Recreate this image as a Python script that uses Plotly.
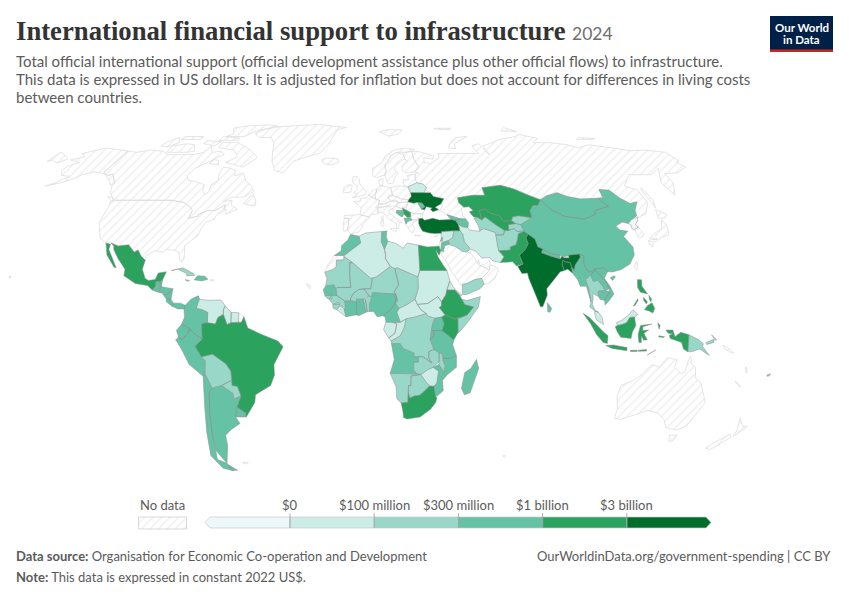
import numpy as np
import plotly.graph_objects as go

# plotly's geo basemap has to be downloaded, so outlines are kept here as lon,lat pairs
# and projected (Robinson) onto plain axes

# --- no data ---
canada = [-141,69.6,-135,69,-128,70,-120,69.5,-115,68,-108,68,-100,68,-95,69,-94,72,-90,69,-85,69.5,-82,68,-87,65,-93,62,-94.5,59,-92.5,57,-88,56.5,-82.5,55.2,-82,52.9,-79.5,51.3,-78.5,52.5,-79,55,-76.7,57,-78,60,-77.5,62.5,-73,62,-70,61,-69,58.8,-65,60,-61.5,56.5,-58,54.8,-55.7,52.5,-60,50.2,-66,50.2,-69,48.5,-65,49,-64.5,47,-61,45.5,-63.5,44.5,-66,43.5,-66,45,-67.5,45.5,-67.5,47.2,-70,46,-71.5,45,-75,45,-79,43.3,-79,42.8,-83,42,-82.5,45,-84.5,46.5,-88.5,48.2,-95,49,-123,49,-125,50,-128,52,-130,54.7,-130,55.9,-135,59.5,-137.5,59,-141,60.3]
baffin = [-62,66,-67,62.5,-72,63.5,-78,64.5,-73,67,-78,70,-88,71,-89,73.5,-80,73.7,-72,71.5,-68,70,-62,67]
victoria = [-105,69,-117,69,-118,72,-110,73,-105,72.5,-101,69.5]
banks = [-125,72,-120,71.5,-116,73.5,-120,76,-124,74]
ellesmere = [-90,76.5,-78,76.5,-75,79,-62,82.5,-70,83.2,-85,82.5,-92,81,-87,78]
devon = [-92,74.5,-80,74.7,-80,75.7,-92,76.5]
melville = [-117,75,-105,75,-105,76.5,-117,76.5]
somerset = [-100,73,-92,72,-90,74,-100,74.5]
southampton = [-87,64,-81,63.5,-83,65.5,-86,65.7]
newfoundland = [-59,47.7,-53,46.7,-53,48.5,-55.5,51.5,-57,50]
vancouver = [-128,50.5,-125,50,-123.5,48.4,-125,48.8]
usa = [-124.7,48.4,-123,49,-95,49,-88.5,48.2,-84.5,46.5,-82.5,45,-83,42,-79,42.8,-79,43.3,-75,45,-71.5,45,-70,46,-67.5,47.2,-67.5,45.5,-66.9,44.8,-70,43.7,-70.7,41.7,-74,40.5,-75.5,38,-76,35.5,-81,31.5,-80,26.8,-80.8,25.1,-81.8,26,-83,29,-85,29.7,-89,30,-90,29,-94,29.6,-97.3,27.5,-97.2,25.9,-99.5,27.5,-101.5,29.8,-103,29,-106.5,31.8,-111,31.3,-114.8,32.5,-117.1,32.5,-120.6,34.5,-122.5,37.5,-124.3,40.3,-124,46]
alaska = [-141,69.6,-141,60.3,-137.5,59,-135,59.5,-130,55.9,-131,55,-135,57.5,-140,59.7,-146,60.5,-151.5,59.3,-153,58,-158,56,-164.5,54.6,-161,56,-157.5,58.7,-162,59,-165,61,-165,63,-161,64.5,-168,65.6,-162,67,-166.5,68.4,-157,71,-150,70.4]
hawaii = [-156,20,-155,19.5,-155.7,19]
greenland = [-73,78.2,-68,80.5,-60,82,-45,82.7,-32,83.6,-22,82.3,-12,81.6,-18,80,-20,76,-22,72.5,-26,68.5,-33,67,-40,65,-43.5,60,-48.5,61,-52,65,-54,69,-56,73,-60,76,-68,76]
iceland = [-24,65.5,-22,64,-18,63.4,-14,64.5,-14.5,66,-18,66.4,-22,66.4]
svalbard = [11,79,17,76.7,24,78,27,80,17,80]
russia = [28,59.6,30,60,28,60.5,31,62.5,29,66,29,69.5,33,69.3,41,67.5,40,66,35,66.5,34.5,64.5,38,64,40,65,44,66.5,44,68.5,54,68.5,60,68.7,68,68.5,67,72,72,73,74,68,74,72,81,73.5,87,75,100,76.5,104,77.7,113,75.5,107,73.5,118,73.5,127,72.5,131,71,140,72.5,152,71,160,69.7,170,70,180,69,180,65,177.5,64.7,179,62.5,170,60,163,59.8,162,56,156.7,51,155.7,56,161,60.5,163,62,155,59.3,143,59.3,135,54.7,140,53,140,48,135.5,43.7,130.7,42.3,130.5,43,131.2,45,135,48.4,131,47.7,127.5,50,125.5,53,120.5,53.3,119.5,50,116.7,49.8,108,49.5,102,50.5,98,52,92,50.8,87.8,49.2,83,51,77,53.5,71,55,61,54,61,51,55,51,47,50,47,48,49,46.3,47.5,45.5,47.5,43,48.5,41.8,46,41.8,40,43.4,37,45,39,47,38,47.5,40,49.6,35,50.5,34,52,31.5,53,32.5,54,31,55.5,28,56,27.5,57.5]
chukotka = [-180,69,-175,67.7,-170,66,-173,64.3,-178,65.5,-180,65]
novaya_zemlya = [52,71,56,70.7,57,73,68,76.5,60,76,54,73]
sakhalin = [142,46,143.5,49,143,54,142,53.5,142,48]
severnaya = [95,79.5,105,79,100,81.5]
new_siberian = [137,75,146,75,150,75.5,140,76]
franz_josef = [50,80.5,60,80,62,81,50,81]
norway = [5,59,7,58,10.5,59,11.5,59,12.5,61,12,63.5,14,65,16,67.5,20,69,25,69,29,69.5,31,70.3,25,71,18,69.8,13,67.5,10,64,5,62]
sweden = [11.5,59,13,55.5,16,56,16.5,58,19,60,17,61.5,18,63,22,65.5,24,66,23.5,68,20,69,16,67.5,14,65,12,63.5,12.5,61]
finland = [23,60,28,60.5,31,62.5,29,66,29,69.5,25,69,23.5,68,24,66,25,65,21.5,63,21.5,61]
denmark = [8.5,55,8,57,10.5,57.7,10,55]
uk = [-5.5,50,1,51.2,1.7,52.7,0,53.5,-2,56,-2,57.5,-3.5,58.6,-5.5,58.5,-6,56.5,-3.5,54.8,-3,53.3,-5,52,-3,51.3]
ireland = [-10,52,-6.3,52.2,-6,54,-5.7,55,-8,55.2,-10,54]
france = [-1.5,43.4,3,42.5,3.5,43.3,7.5,43.8,7,46,8,48.9,6,49.5,2.5,51,1.5,50,-1.5,49.7,-1.5,48.7,-4.7,48.5,-1,46,-1.2,44.5]
spain = [-9.2,43,-1.8,43.4,3,42.4,0,40,-0.5,38.5,-2,36.8,-5.5,36,-7.3,37.2,-7,39.5,-6.8,41.9,-9,42]
portugal = [-9,42,-6.8,41.9,-7,39.5,-7.3,37.2,-9,37,-9.5,38.8]
germany = [6,51,7,53.5,8.8,54.8,10,54.7,14,54,14.7,51,12.2,50.3,13.7,48.7,10,47.5,7.6,47.6,8,48.9,6,49.5]
benelux = [2.5,51,3.5,51.4,4.7,53,7,53.4,6,51,6,49.5]
alps = [6,46.2,7.6,47.6,10,47.5,13.7,48.7,17,48.7,16,46.8,12,46.7,10,46.5,8,46]
italy = [7,44,7,46,10,46.5,12,46.7,13.7,45.6,12.3,45,12.5,44,16,41.8,18.4,40.2,17,40.5,16.5,38.2,15.7,38,15.5,40,12,41.8,10,43.7,8.5,44.3]
sicily = [12.5,38,15.5,38.2,15,36.7]
sardinia = [8.3,39,9.7,39,9.5,41.2,8.3,40.9]
corsica = [8.7,41.5,9.4,41.5,9.4,43,8.7,42.5]
crete = [23.5,35.4,26.3,35.2,26,35,23.6,35.2]
cyprus = [32.4,34.8,34.5,35.6,33.8,34.9]
poland = [14,54,18.5,54.8,23,54.3,24,52,24,50.5,22.5,49.2,19,49.5,14.7,51]
czech_slovak = [12.2,50.3,14.7,51,19,49.5,22.5,49.2,22,48.4,17,48,17,48.7,13.7,48.7]
hungary = [16,46.8,17,48,22,48.4,21,46.2,18,45.8]
romania = [21,46.2,22,48.4,24.8,47.8,26.6,48.2,28.2,45.5,29.7,45.2,28.6,43.7,25,43.7,22.7,44.2,21,45]
bulgaria = [22.7,44.2,25,43.7,28.6,43.7,28,42,26.3,41.8,23,41.4,22.5,42.5]
greece = [20,39.7,21,40.8,26.3,41.5,24,40.7,23,39.5,24,38,23,36.5,21.7,36.8,21,38.3]
croatia_slovenia = [13.7,45.5,16,46.8,18,45.8,19,45,16,45,16,44,17.5,43,18.5,42.5,15,44.5,14.3,45.2]
baltics = [21,55,21,57.3,24,57.2,23.5,59,28,59.5,27.5,57.5,28,56,26.5,55.5,23,54.3]
japan_honshu = [131,34,135,33.7,136.8,34.6,140.8,35.7,142,39.5,141.3,41.4,140,40,139,38,136.8,37.2,133,35.5]
japan_hokkaido = [140,42,141.5,45.4,145.3,43.5,143,42]
japan_kyushu = [130,33.5,132,33,131,31,130.2,31.5]
japan_shikoku = [132.5,34,134.5,34.2,134,33.4,133,32.8]
south_korea = [126,37.7,128.3,38.6,129.4,36,128,34.8,126.3,34.5]
taiwan = [120.2,23,121,25,122,25,121,22]
saudi = [34.9,29.4,37,31.5,39,32,42,31,44.7,29.2,46.5,29.1,48.4,28.5,50,26.5,50.8,24.8,51.6,24,55,22.7,55.7,22,52,19,49,18.5,46,17.3,43.3,16.5,42.7,16.5,40.5,19.5,39,21.5,37.2,25,35,28]
oman = [52,19,55.7,22,56.3,24,58.5,23.6,59.8,22.5,58,19,55,17,53,16.7]
uae = [51.6,24,54,24.2,56.3,26,56.3,24,55.7,22,55,22.7]
qatar = [50.8,24.8,51.5,26,51.6,24.6]
kuwait = [46.5,29.1,48,30,48.4,28.5]
israel = [34.3,31.3,35,33.2,35.5,32.5,35,29.5]
western_sahara = [-8.7,27.7,-8.7,26,-12,26,-12,23.4,-13,22.5,-17,21.4,-16,23.7,-13,27.7]
french_guiana = [-54,5.8,-51.7,4.3,-52.8,2.2,-54,2.3]
australia = [114,-22,113.2,-26,115,-31,115,-34.5,118,-35,124,-33,129,-31.5,134,-32.5,138,-35,141,-38.2,146.5,-39,150,-37.5,153.5,-28.5,149,-21,146,-19,145.3,-15,143.5,-14,142.5,-10.7,141.5,-13,141,-17,139.5,-17.5,136,-15,136.8,-12.2,132.5,-11.3,129.5,-15,126,-14,122,-18,119,-20]
tasmania = [144.8,-41,148.3,-41,148,-43,146.5,-43.6,145.5,-42.5]
nz_north = [172.7,-34.5,176,-37.5,178.5,-37.7,176.5,-40,175,-41.5,174.7,-39]
nz_south = [172.7,-40.5,174.3,-41.7,171,-45,169,-46.6,166.5,-46,168,-44,171,-42]
new_caledonia = [164,-20.2,167,-22.3,166.3,-22.3,164,-20.6]
vanuatu = [167,-15,167.5,-15,168.3,-17,167.8,-17]
solomon = [156,-6.7,158,-7.5,161,-9.5,160,-9.5,157,-8]
falklands = [-61,-51.8,-58,-51.5,-59,-52.3]
cape_verde = [-25,17,-23,16,-23.5,15]
puerto_rico = [-67.2,18.5,-65.6,18.4,-66,18,-67.2,18]
kerguelen = [69,-49,70.5,-49,70,-49.6]

# --- below $0 ---
north_korea = [124.3,40,127,41.5,130.5,42.5,129.5,41,127.5,39.5,128.3,38.6,126,37.7,125,38,125.3,39.5]

# --- $0 to $100 million ---
algeria = [-2,35.1,1,36.3,8.6,36.9,8.2,33,9.5,30.2,10,28,9.9,26.5,12,23.5,5.8,19.5,4,19,3.2,19,-4.8,25,-8.7,27.3,-8.7,27.7,-4,30.8,-1.2,32.5]
libya = [11.2,33.2,15,32.3,18,30.5,20,32.5,25,31.7,25,22,24,19.5,15,23,14,22.6,12,23.5,9.9,26.5,10,28,9.5,30.2]
sudan = [24,19.5,25,22,37,22,38,18,36.5,14.5,36,12.7,34,10,32.5,12,28,9.4,23.5,9,22.5,11,24,15]
south_sudan = [23.5,9,28,9.4,32.5,12,34,10,34,8.5,33,7.8,35.5,5,34,4.2,31,3.7,28,4.5,27.3,5.5,25,7]
car = [14.5,6,15.5,7.5,19,9,22.5,11,23.5,9,25,7,27.3,5.5,22.5,4.2,18.6,3.5,16,2.2]
gabon = [9.3,1,9.8,2.3,13,2.2,14.5,1.5,13.7,-2,11,-3.8,8.8,-0.7]
congo = [14.5,1.5,13,2.2,16,2.2,18.6,3.5,17.7,0,16,-3,12,-5,11,-3.8,13.7,-2]
eritrea = [36.5,14.5,38,18,39.5,15.5,43,12.5,42,12.5,40,14.5,38,14.5]
liberia = [-11.5,7,-10.3,8.5,-8.4,7.5,-7.5,4.3]
zimbabwe = [25.2,-17.8,28,-16,30.5,-15,33,-16.5,32.5,-21,31.3,-22.3,29.3,-22.2,27.5,-20.5]
lesotho = [27,-29.6,28.5,-28.7,29.4,-29.7,28,-30.6]
eswatini = [30.8,-26.4,32,-25.8,32,-27.2,31,-27.2]
iran = [44.8,39.7,46,38.8,48.8,38.4,49.3,37.5,54,36.9,54,37.3,56,38,61,36.6,61,34,60.8,31.5,61,29.5,63,27.2,61,25,57.5,25.7,56.5,27,53,26.7,50.5,29.5,48.5,30,48,30.5,46,33,45.8,35.8,44.8,37.2]
syria = [36,36.2,36.2,36.9,42,37.2,41,34.5,38.8,33.4,36,32.7,35.7,35]
belarus = [24,52,23,54.3,26.5,55.5,28,56,31,55.5,32.5,54,31.5,53,31,52]
bhutan = [88.8,27.3,92,27.8,92,26.8,89.8,26.8]
malaysia_peninsula = [100.5,6.5,102,6,103.5,4,104,1.4,101,3,100.3,5.5]
malaysia_borneo = [109.6,2,112,3,115,5,117,7,119,5.2,117.5,4.2,115.5,4,114,2,112,1.3,110,1]
venezuela = [-72,12.3,-71.3,11,-68,10.6,-62,10.7,-60,8.5,-60.7,7,-60.7,5.2,-63,4,-64,1.5,-67.5,2,-67.5,6,-70,7,-72.5,7.5]
guyana = [-60,8.5,-57.3,6,-57.3,2,-59,1.3,-60.7,5.2,-60.7,7]
suriname = [-57.3,6,-54,5.8,-54,2.3,-57.3,2]

# --- $100 million to $300 million ---
mauritania = [-17,21.3,-13,22.5,-12,23.4,-12,26,-8.7,26,-8.7,27.3,-4.8,25,-6,25,-6,20,-5.5,15.5,-11.5,15.5,-12,15,-13,16.5,-16.5,16,-16,19]
mali = [-12,15,-11.5,12.4,-8,10.3,-5.5,10.4,-5.5,11.5,-4,13.5,-2,14.7,0.2,15,3.2,15,4,19,3.2,19,-4.8,25,-6,25,-6,20,-5.5,15.5,-11.5,15.5]
niger = [0.2,15,2.5,12.3,3.6,11.7,4,13.5,10,13.2,14,13,13.5,14,15.5,16.5,14,22.6,12,23.5,5.8,19.5,4,19,3.2,15]
chad = [15,23,24,19.5,24,15,22.5,11,19,9,15.5,7.5,14,9.5,15,10.5,14,13,13.5,14,15.5,16.5,14,22.6]
burkina = [-5.5,10.4,-3,10,-3,11,0,11,2.5,12.3,0.2,15,-2,14.7,-4,13.5,-5.5,11.5]
guinea = [-13.7,12.6,-11.5,12.4,-8,10.3,-7.7,8,-9,8,-10.5,9,-13,9,-15,11]
guinea_bissau = [-16.7,12.3,-13.7,12.6,-13.7,11,-15.7,11.3]
sierra_leone = [-13.3,9,-10.5,9.9,-10.3,8.5,-11.5,7,-13,7.5]
togo = [0,11,0.9,11,1.7,6.2,1.2,6,0.6,8]
benin = [0.9,11,2.5,12.3,3.6,11.7,2.7,9,2.7,6.3,1.7,6.2]
drc = [12.2,-6,12,-5,16,-3,17.7,0,18.6,3.5,22.5,4.2,27.3,5.5,28,4.5,31,3.7,30,1.5,29.5,-1,29,-4.5,30.7,-8.2,28.5,-9,28.5,-11.5,29.8,-13.3,26,-11,22,-11,22,-9.5,17.5,-8,16,-6]
zambia = [24,-11,26,-11,29.8,-13.3,28.5,-11.5,28.5,-9,30.7,-8.2,33,-9.5,33,-13,30.5,-15,28,-16,25.5,-17.7,23.4,-17.6,22,-16,22,-13,24,-13]
malawi = [33,-9.5,34.2,-9.7,34.8,-12.5,35.8,-14.5,35.3,-17,34.3,-15.5,33,-14,33,-13]
namibia = [11.8,-17.3,18.5,-17.4,23.4,-17.6,25,-17.8,21,-18.3,21,-22,20,-22,20,-28.4,17,-28.7,15,-27,14.5,-22.5]
botswana = [20,-22,21,-22,21,-18.3,25.2,-17.8,27.5,-20.5,29.3,-22.2,26.5,-24.7,25,-25.7,22.7,-26,20.8,-26.8,20,-24.8]
somalia = [41,3.9,41.9,3.9,45,5,47.9,8,44,9,42.8,11,45,10.5,51,12,50,8,45,2,41.5,-1.7,41,-1.7]
yemen = [43.3,12.8,45,12.8,51,15,53,16.7,52,19,49,18.5,46,17.3,43.3,16.5]
iraq = [38.8,33.4,41,34.5,42,37.2,44.8,37.2,45.8,35.8,46,33,48,30.5,48,30,46.5,29.1,44.7,29.2,42,31,39,32]
afghanistan = [61,35.6,64.5,35.6,65.5,37.3,67.5,37.3,70,38,71.5,36.8,75,37.3,71.5,36,70.5,33.8,69.3,31.8,66.5,31,66.3,29.8,61,29.5,60.8,31.5,61,34]
turkmenistan = [52.5,42,54.5,42.3,56,41.3,58,42.5,62,39.5,65.5,37.3,64.5,35.6,61,35.6,61,36.6,56,38,54,37.3,53.8,39.2]
kyrgyzstan = [70,41,71,42.5,74,43,80,42.2,76,40.4,73.7,39.5,71.5,40]
tajikistan = [67.5,37.3,68,39.5,71.5,40,73.7,39.5,75,37.3,71.5,36.8,70,38]
thailand = [97.7,18.5,100.2,20.3,101,17.7,103,18.3,104.8,16,105.5,14.3,102.5,14,102.5,12,101,12.7,100.3,13.5,100,11,99.5,9,100.5,7,102,6,100.5,6.5,98.3,8,99,10,98.5,15]
png = [141,-2.6,145,-4.3,147.5,-6,147.2,-7,150.5,-10.5,146,-8,143,-9,141,-9.1]
new_britain = [148.5,-5.6,152,-4.2,152,-5.5,149,-6.3]
new_ireland = [150.8,-2.6,153,-4.4,152.8,-4.8,150.8,-3]
bolivia = [-69,-12.5,-70.5,-11,-65.5,-10,-60,-13.7,-58,-16.5,-58,-20,-62.7,-22,-67,-23,-69.5,-17.5]
paraguay = [-62.7,-22,-58,-20,-58,-22,-55.7,-22.3,-54.5,-26,-58,-27.2,-58,-25]
cuba = [-85,21.9,-80,23,-75,20.8,-74.2,20.2,-77.7,19.9,-78,20.8,-82,22.5]
jamaica = [-78.3,18.4,-76.3,18.2,-77,17.8]
fiji = [177.3,-18,178.7,-17.5,178.5,-18.3,177.4,-18.4]

# --- $300 million to $1 billion ---
morocco = [-5.9,35.8,-2,35.1,-1.2,32.5,-4,30.8,-8.7,27.7,-13,27.7,-10,29.5,-9.8,31.5,-7,33.7]
tunisia = [8.6,36.9,11,37.1,10.5,35,11.2,33.2,9.5,30.2,8.2,33]
senegal = [-17.5,14.7,-16.5,16,-13,16.5,-12,15,-11.5,12.4,-13.7,12.6,-16.7,12.3]
ivory_coast = [-8.4,7.5,-7.7,8,-8,10.3,-5.5,10.4,-3,10,-2.8,5.1,-7.5,4.3]
ghana = [-3,11,0,11,0.6,8,1.2,6,-2,4.7,-3,5.1]
nigeria = [2.7,6.3,2.7,9,3.6,11.7,4,13.5,10,13.2,14,13,14.5,11.5,13.5,9,11.5,6.7,8.6,4.7,6,4.3,4.5,6.3]
cameroon = [8.6,4.7,11.5,6.7,13.5,9,14.5,11.5,14,13,15,10.5,14,9.5,15.5,7.5,14.5,6,16,2.2,13,2.2,9.8,2.3,9.5,4]
angola = [12.2,-6,16,-6,17.5,-8,22,-9.5,22,-11,24,-11,24,-13,22,-13,22,-16,23.4,-17.6,18.5,-17.4,11.8,-17.3,13.5,-12,13,-9]
mozambique = [30.5,-15,33,-14,34.3,-15.5,35.3,-17,35.8,-14.5,34.8,-12.5,34.7,-11.5,37.5,-11.7,40.5,-10.5,40.7,-15,37,-17.8,34.9,-20,35.5,-24,32.9,-26,32,-25.5,31.3,-22.3,32.5,-21,33,-16.5]
tanzania = [29,-4.5,30.5,-3,30.5,-1,34,-1,37.7,-3.5,39.2,-4.7,38.8,-6.5,39.5,-8,40.5,-10.5,37.5,-11.7,34.7,-11.5,34.2,-9.7,33,-9.5,30.7,-8.2]
rwanda_burundi = [29.5,-1,30.5,-1,30.5,-3,29,-4.5]
uganda = [31,3.7,34,4.2,35,1.5,34,-1,30.5,-1,29.5,-1,30,1.5]
madagascar = [49.3,-12,50.5,-15.5,47.5,-24.8,45,-25.5,43.5,-23,44.5,-17,47,-15.5]
jordan = [35,29.4,35.5,32.5,36,32.7,38.8,33.4,39,32,37,31.5,36,29.2]
lebanon = [35.1,33.2,35.9,34.6,36.5,34.5,35.7,33.2]
georgia = [40,43.4,46,41.8,43.5,41.1,41.5,41.5]
caucasus_south = [43.5,41.1,46,41.8,48.5,41.8,49.5,40.3,48.8,38.4,46,38.8,44.8,39.7]
moldova = [26.6,48.2,29,47.9,30,46.5,28.2,45.5]
bosnia = [16,45,19,45,19.5,43.5,18.5,42.5,17.5,43,16,44]
albania_macedonia = [19.3,42,20.5,42,22.5,42.2,23,41.3,21,40.8,20,39.7,19.4,41]
china = [73.7,39.5,76,40.4,80,42.2,80.5,45,83,47,85.5,47,87.8,49.2,91,45.2,96,42.7,105,41.7,111,43.5,112,45,119.7,46.7,116.7,49.8,119.5,50,120.5,53.3,125.5,53,127.5,50,131,47.7,135,48.4,131.2,45,130.5,43,127,41.5,124.3,40,122,40.5,118,39,119,37.5,122.5,37,119.5,35,122,31,121.5,28,118.5,24.5,114,22.3,110,21.4,108,21.6,106.6,23,102,22.5,101.5,21.2,99,22,98,24.5,98.7,27.5,97,28.3,92,27.8,88.8,27.3,88,27.9,84,28.5,81,30.2,79,31,78.5,34,76,35.8,74.5,37]
hainan = [108.7,19.2,110.5,20,111,19.6,109.5,18.2]
mongolia = [87.8,49.2,92,50.8,98,52,102,50.5,108,49.5,116.7,49.8,119.7,46.7,112,45,111,43.5,105,41.7,96,42.7,91,45.2]
nepal = [81,30.2,84,28.5,88,27.9,88,26.4,84,27.4,80,28.8]
sri_lanka = [80,9.7,81.8,7.5,81,6,80,6.2]
myanmar = [92.3,21,92.3,23.5,93.3,22,94,24,97,27,97,28.3,98.7,27.5,98,24.5,99,22,101.5,21.2,100.2,20.3,97.7,18.5,98.5,15,99,10,98.5,12,97.7,16,95,16,94.2,18.5]
laos = [101.5,21.2,102,22.5,104,20.5,106.5,18,107.5,15,105.5,14.3,104.8,16,103,18.3,101,17.7,100.2,20.3]
vietnam = [102,22.5,106.6,23,108,21.6,106,19,108,16,109.3,13,107,10.5,105,8.8,105,10.5,107.5,14,107.5,15,106.5,18,104,20.5]
cambodia = [102.5,14,105.5,14.3,107.5,14,105,10.5,103,11,102.5,12]
guatemala = [-92.2,14.5,-91,16,-91,17.8,-89.2,17.8,-89,15.9,-88.3,15.7,-90,13.8]
belize = [-89.2,17.8,-88.2,18.4,-88.3,16,-89,15.9]
el_salvador = [-90,13.8,-89,14.5,-87.8,13.3]
honduras = [-89,15.9,-83.2,15,-85,13,-87.5,13.2,-89,14.5]
nicaragua = [-87.5,13,-85,13,-83.2,15,-83.7,11,-85.7,11]
costa_rica = [-85.7,11,-83.7,11,-82.6,9.5,-83,8.3,-85.7,10]
panama = [-83,8.3,-82.6,9.5,-79.5,9.5,-77.3,8.7,-77.8,7.3,-80.5,7.3]
hispaniola = [-74.4,18.4,-73,20,-69.8,19.8,-68.3,18.6,-71,18]
colombia = [-77.3,8.7,-75,11,-72,12.3,-71.3,11,-72.5,7.5,-70,7,-67.5,6,-67.5,2,-70,1.7,-69.8,-4.2,-73,-2.3,-75.3,-0.1,-78.7,1.4,-77.5,4,-77.8,7.3]
ecuador = [-80,-3.4,-80.9,-1,-78.7,1.4,-75.3,-0.1,-75.5,-1.5,-78.5,-4.5]
peru = [-81.3,-4.5,-80,-3.4,-78.5,-4.5,-75.5,-1.5,-75.3,-0.1,-73,-2.3,-69.8,-4.2,-73,-7,-70.5,-11,-69,-12.5,-69.5,-17.5,-70.4,-18.4,-76,-14,-79,-8]
chile = [-69.5,-17.5,-67,-23,-68.5,-24.5,-70,-33,-71,-40,-72,-47,-73,-50.5,-69,-52,-67,-55,-72,-54,-75.5,-49,-73.5,-40,-71.5,-30,-70.4,-18.4]
argentina = [-67,-23,-62.7,-22,-58,-25,-58,-27.2,-54.5,-26,-57,-30,-58.4,-34,-57,-36.5,-62,-39,-65,-41,-65.5,-45,-68,-50,-69,-52,-72,-47,-71,-40,-70,-33,-68.5,-24.5]
tierra_del_fuego = [-68.5,-52.7,-65,-54.8,-68.5,-54.8]
uruguay = [-57,-30.2,-53.5,-32.5,-53.5,-34,-58.4,-34]

# --- $1 billion to $3 billion ---
egypt = [25,31.7,29,31,32.3,31.2,34.3,31.3,34.9,29.5,34,27.8,32.6,29.8,33.5,27,35.5,24,37,22,25,22]
ethiopia = [34,10,36,12.7,36.5,14.5,38,14.5,40,14.5,42,12.5,42.8,11,44,9,47.9,8,45,5,41.9,3.9,41,3.9,39.5,3.4,35.5,5,33,7.8,34,8.5]
kenya = [34,-1,35,1.5,34,4.2,35.5,5,39.5,3.4,41,3.9,41,-1.7,39.2,-4.7,37.7,-3.5]
south_africa = [17,-28.7,20,-28.4,20,-24.8,20.8,-26.8,22.7,-26,25,-25.7,26.5,-24.7,29.3,-22.2,31.3,-22.3,32,-25.5,32.9,-26.8,32.5,-28.5,30.5,-31,26,-34,20,-34.8,18.4,-34.2,18,-32]
kazakhstan = [47,50,47,48,49,46.3,51.5,46.5,53,45,51,44.5,52.5,42.5,54.5,42.3,56,41.3,56,45,59,45.5,61,44,65,43,66,41,70,41,71,42.5,74,43,80,42.2,80.5,45,83,47,85.5,47,87.8,49.2,83,51,77,53.5,71,55,61,54,61,51,55,51]
uzbekistan = [56,41.3,56,45,59,45.5,61,44,65,43,66,41,70,41,71.5,40,68,39.5,67.5,37.3,65.5,37.3,62,39.5,58,42.5]
pakistan = [61,25,66.5,25.3,68,23.7,71,24.5,70,27.8,73,30,75,32.3,74.5,34.5,76,35.8,74.5,37,71.5,36,70.5,33.8,69.3,31.8,66.5,31,66.3,29.8,61,29.5,63,27.2]
serbia = [19,46,21,45,22.7,44.2,22.5,42.5,21,42.3,19.5,43.5,19,45]
sumatra = [95.3,5.6,98,4,104,-1.5,106,-3,105.8,-5.9,104,-5.5,101,-2.5,98.5,1.5]
java = [105.2,-6.7,108.5,-6.5,114.5,-7.5,114.5,-8.7,108,-7.8]
kalimantan = [109,0.5,110,1,112,1.3,114,2,115.5,4,117.5,4.2,118,1,116.5,-1.5,116,-4,111.5,-3.5,110,-1.5]
sulawesi = [120,1,125,1.5,121,0.5,121,-1,123.5,-0.8,121.5,-2,123,-4.5,121.5,-4.7,120.5,-3,120.5,-5.6,119.5,-5.5,119,-2.5]
lombok_sumbawa = [116,-8.5,119,-8.5,119,-9,116,-9]
flores = [119.5,-8.5,123,-8.2,123,-8.8,119.5,-8.9]
timor = [123.5,-10.3,127,-8.4,125,-9.5]
halmahera = [127.5,2,128.5,1,128,-0.5]
seram = [128,-3,130.5,-3.3,130,-3.6,128,-3.4]
papua = [131,-0.8,134,-0.8,135,-3.3,137.5,-1.6,141,-2.6,141,-9.1,139,-8,138,-5.5,133,-4,132.5,-2.8,134,-2.3,132,-2]
luzon = [120.5,18.5,122.3,18.4,122,16,124,13,121,13.7,120,15.5]
mindanao = [122,7,123.5,8.6,125.5,9.7,126.5,7.5,125.5,5.7,124,6.5]
visayas_west = [122,11.8,123.5,10,123,9.2,122,10.5]
visayas_east = [124.5,12.5,125.5,11,125,10,124.5,11]
palawan = [117.3,8.4,119.5,11.2,119.5,10.5,118,8.6]
mexico = [-114.8,32.5,-111,31.3,-106.5,31.8,-103,29,-101.5,29.8,-99.5,27.5,-97.2,25.9,-97.8,22.5,-96,19,-94.5,18.2,-91.5,18.5,-90.5,21,-87,21.5,-88.2,18.4,-89.2,17.8,-91,17.8,-91,16,-92.2,14.5,-94.5,16.2,-100,17,-105.5,20,-105.5,22.5,-109.5,26.5,-112.5,30,-113,31.3]
baja = [-117.1,32.5,-114.8,32,-114.7,30,-111,25,-109.5,23,-110.5,23.2,-112.2,25,-115,28,-116,30.5]
brazil = [-51.7,4.3,-50,0,-44,-2.5,-37,-5,-34.8,-7.2,-39,-14,-39,-18,-41,-22,-48,-25.5,-48.7,-28.5,-53.5,-34,-53.5,-32.5,-57,-30.2,-54.5,-26,-55.7,-22.3,-58,-22,-58,-16.5,-60,-13.7,-65.5,-10,-70.5,-11,-73,-7,-69.8,-4.2,-70,1.7,-67.5,2,-64,1.5,-63,4,-60.7,5.2,-59,1.3,-57.3,2,-54,2.3,-52.8,2.2]

# --- above $3 billion ---
india = [68.5,23.5,71,24.5,70,27.8,73,30,75,32.3,74.5,34.5,76,35.8,78.5,34,79,31,81,30.2,80,28.8,84,27.4,88,26.4,88.8,27.3,89.8,26.8,92,26.8,92,27.8,97,28.3,97,27,94,24,93.3,22,92.3,23.5,92,25,89.8,25.3,89,26,88.3,24,89,22,87,21.5,85,19.6,82,16.5,80.2,15,80.2,12.5,78,8.2,77,8,74.5,14.5,72.8,19,72.5,21,70,20.8]
bangladesh = [88.3,24,89,26,89.8,25.3,92,25,92.3,23.5,92.3,21,90.5,22.5,89,22]
turkey = [26.3,41.8,26,40,26.5,38.5,27.5,37,30.5,36.3,33,36.1,36,36.2,36.2,36.9,42,37.2,44.8,37.2,44.5,39.7,43.5,41.1,41.5,41.5,36,41.3,33,42,29,41.2,28,42]
ukraine = [24,52,31,52,34,52,35,50.5,40,49.6,38,47.5,35,46.3,36.5,45.3,33.5,44.5,32.5,45.5,33.5,46,30.7,46.5,29.7,45.3,28.2,45.5,30,46.5,29,47.9,26.6,48.2,24.8,47.8,22,48.4,22.5,49.2,24,50.5]

no_data_shapes = [canada, baffin, victoria, banks, ellesmere, devon, melville, somerset, southampton, newfoundland,
                  vancouver, usa, alaska, hawaii, greenland, iceland, svalbard, russia, chukotka, novaya_zemlya,
                  sakhalin, severnaya, new_siberian, franz_josef, norway, sweden, finland, denmark, uk, ireland,
                  france, spain, portugal, germany, benelux, alps, italy, sicily, sardinia, corsica, crete, cyprus,
                  poland, czech_slovak, hungary, romania, bulgaria, greece, croatia_slovenia, baltics, japan_honshu,
                  japan_hokkaido, japan_kyushu, japan_shikoku, south_korea, taiwan, saudi, oman, uae, qatar, kuwait,
                  israel, western_sahara, french_guiana, australia, tasmania, nz_north, nz_south, new_caledonia,
                  vanuatu, solomon, falklands, cape_verde, puerto_rico, kerguelen]
below_zero_shapes = [north_korea]
up_to_100m_shapes = [algeria, libya, sudan, south_sudan, car, gabon, congo, eritrea, liberia, zimbabwe, lesotho,
                     eswatini, iran, syria, belarus, bhutan, malaysia_peninsula, malaysia_borneo, venezuela, guyana,
                     suriname]
up_to_300m_shapes = [mauritania, mali, niger, chad, burkina, guinea, guinea_bissau, sierra_leone, togo, benin, drc,
                     zambia, malawi, namibia, botswana, somalia, yemen, iraq, afghanistan, turkmenistan, kyrgyzstan,
                     tajikistan, thailand, png, new_britain, new_ireland, bolivia, paraguay, cuba, jamaica, fiji]
up_to_1b_shapes = [morocco, tunisia, senegal, ivory_coast, ghana, nigeria, cameroon, angola, mozambique, tanzania,
                   rwanda_burundi, uganda, madagascar, jordan, lebanon, georgia, caucasus_south, moldova, bosnia,
                   albania_macedonia, china, hainan, mongolia, nepal, sri_lanka, myanmar, laos, vietnam, cambodia,
                   guatemala, belize, el_salvador, honduras, nicaragua, costa_rica, panama, hispaniola, colombia,
                   ecuador, peru, chile, argentina, tierra_del_fuego, uruguay]
up_to_3b_shapes = [egypt, ethiopia, kenya, south_africa, kazakhstan, uzbekistan, pakistan, serbia, sumatra, java,
                   kalimantan, sulawesi, lombok_sumbawa, flores, timor, halmahera, seram, papua, luzon, mindanao,
                   visayas_west, visayas_east, palawan, mexico, baja, brazil]
above_3b_shapes = [india, bangladesh, turkey, ukraine]

bin_colors = ["#edf8fb", "#ccece6", "#99d8c9", "#66c2a4", "#2ca25f", "#006d2c"]
bin_shapes = [below_zero_shapes, up_to_100m_shapes, up_to_300m_shapes, up_to_1b_shapes, up_to_3b_shapes, above_3b_shapes]
legend_labels = ["$0", "$100 million", "$300 million", "$1 billion", "$3 billion"]

# Robinson table, every 5 degrees
rob_lat = np.arange(0, 95, 5)
rob_plen = [1, .9986, .9954, .99, .9822, .973, .96, .9427, .9216, .8962, .8679, .835, .7986, .7597, .7186, .6732, .6213, .5722, .5322]
rob_pdfe = [0, .062, .124, .186, .248, .31, .372, .434, .4958, .5571, .6176, .6769, .7346, .7903, .8435, .8936, .9394, .9761, 1]

W, H = 850, 600
SCALE, CX, CY = 156.0, 363.3, 328.0
GREY = "#5b5b5b"


def project(flat):
    lon = np.array(flat[0::2] + flat[:1], dtype=float)
    lat = np.array(flat[1::2] + flat[1:2], dtype=float)
    x = 0.8487 * np.radians(lon) * np.interp(np.abs(lat), rob_lat, rob_plen)
    y = 1.3523 * np.sign(lat) * np.interp(np.abs(lat), rob_lat, rob_pdfe)
    return x, y


def merged(shapes):
    xs, ys = [], []
    for s in shapes:
        x, y = project(s)
        xs += list(x) + [None]
        ys += list(y) + [None]
    return xs, ys


def to_axis(px, py):
    return (px - CX) / SCALE, (CY - py) / SCALE


def note(px, py, text, size=13, color=GREY, anchor="left", family="Lato", **kw):
    return dict(x=px / W, y=1 - py / H, xref="paper", yref="paper", text=text, showarrow=False, xanchor=anchor,
                yanchor="middle", align=anchor, borderpad=0, borderwidth=0,
                font=dict(family=family, size=size, color=color), **kw)


fig = go.Figure()

x, y = merged(no_data_shapes)
fig.add_trace(go.Scatter(x=x, y=y, mode="lines", fill="toself", fillcolor="white",
                         fillpattern=dict(shape="/", fgcolor="#dcdcdc", bgcolor="white", size=6, solidity=0.2),
                         line=dict(color="#dadada", width=0.7), hoverinfo="skip"))
for shapes, color in zip(bin_shapes, bin_colors):
    x, y = merged(shapes)
    fig.add_trace(go.Scatter(x=x, y=y, mode="lines", fill="toself", fillcolor=color,
                             line=dict(color="#8f8f8f", width=0.5), hoverinfo="skip"))

# no data swatch in the legend
box_x, box_y = to_axis(np.array([138.5, 186.5, 186.5, 138.5, 138.5]), np.array([517, 517, 529, 529, 517]))
fig.add_trace(go.Scatter(x=box_x, y=box_y, mode="lines", fill="toself",
                         fillpattern=dict(shape="/", fgcolor="#dcdcdc", bgcolor="white", size=6, solidity=0.2),
                         line=dict(color="#c8c8c8", width=0.7), hoverinfo="skip"))

layout_shapes = []
edges = [205, 290, 374.2, 458.4, 542.6, 626.8, 711]
top, bottom = 517, 528
for i, color in enumerate(bin_colors):
    x0, x1 = edges[i], edges[i + 1]
    if i == 0:
        pts = [(x0 + 5, top), (x1, top), (x1, bottom), (x0 + 5, bottom), (x0, (top + bottom) / 2)]
    elif i == 5:
        pts = [(x0, top), (x1 - 5, top), (x1, (top + bottom) / 2), (x1 - 5, bottom), (x0, bottom)]
    else:
        pts = [(x0, top), (x1, top), (x1, bottom), (x0, bottom)]
    axis_pts = [to_axis(p, q) for p, q in pts]
    path = "M " + " L ".join(f"{a:.4f} {b:.4f}" for a, b in axis_pts) + " Z"
    layout_shapes.append(dict(type="path", xref="x", yref="y", path=path, fillcolor=color,
                              line=dict(color="#c4c8cc", width=0.7)))
for edge in edges[1:-1]:
    ax, ay0 = to_axis(edge, 513)
    _, ay1 = to_axis(edge, bottom)
    layout_shapes.append(dict(type="line", xref="x", yref="y", x0=ax, x1=ax, y0=ay0, y1=ay1,
                              line=dict(color="#8f9599", width=0.7)))

# logo
logo_x0, logo_y0 = to_axis(770, 16)
logo_x1, logo_y1 = to_axis(833, 52)
_, logo_red = to_axis(0, 49.5)
layout_shapes.append(dict(type="rect", xref="x", yref="y", x0=logo_x0, x1=logo_x1, y0=logo_y1, y1=logo_y0,
                          fillcolor="#002147", line=dict(width=0)))
layout_shapes.append(dict(type="rect", xref="x", yref="y", x0=logo_x0, x1=logo_x1, y0=logo_y1, y1=logo_red,
                          fillcolor="#ce261e", line=dict(width=0)))

annotations = [
    note(16, 31, "<b>International financial support to infrastructure</b>", size=26.7, color="#333333",
         family="Liberation Serif"),
    note(572, 33, "2024", size=17.5, color="#6e6e6e"),
    note(16, 61, "Total official international support (official development assistance plus other official flows) to infrastructure.", size=15),
    note(16, 79, "This data is expressed in US dollars. It is adjusted for inflation but does not account for differences in living costs", size=15),
    note(16, 97, "between countries.", size=15),
    note(162, 505, "No data", anchor="center"),
    note(16, 556, "<b>Data source:</b> Organisation for Economic Co-operation and Development"),
    note(16, 577, "<b>Note:</b> This data is expressed in constant 2022 US$."),
    note(831, 556, "OurWorldinData.org/government-spending | CC BY", anchor="right"),
    note(801.5, 27, "<b>Our World</b>", size=11.5, color="white", anchor="center", height=12),
    note(801.5, 39, "<b>in Data</b>", size=11.5, color="white", anchor="center", height=12),
]
for edge, label in zip(edges[1:-1], legend_labels):
    annotations.append(note(edge, 505, label, anchor="center"))

x_min, y_max = to_axis(0, 0)
x_max, y_min = to_axis(W, H)
fig.update_layout(
    width=W, height=H, margin=dict(l=0, r=0, t=0, b=0), showlegend=False,
    paper_bgcolor="white", plot_bgcolor="white",
    xaxis=dict(range=[x_min, x_max], visible=False, domain=[0, 1]),
    yaxis=dict(range=[y_min, y_max], visible=False, domain=[0, 1]),
    shapes=layout_shapes, annotations=annotations,
)
# the page's default 8px body margin would push everything off position
fig.write_html("out.html", config=dict(displayModeBar=False), post_script="document.body.style.margin='0';")
